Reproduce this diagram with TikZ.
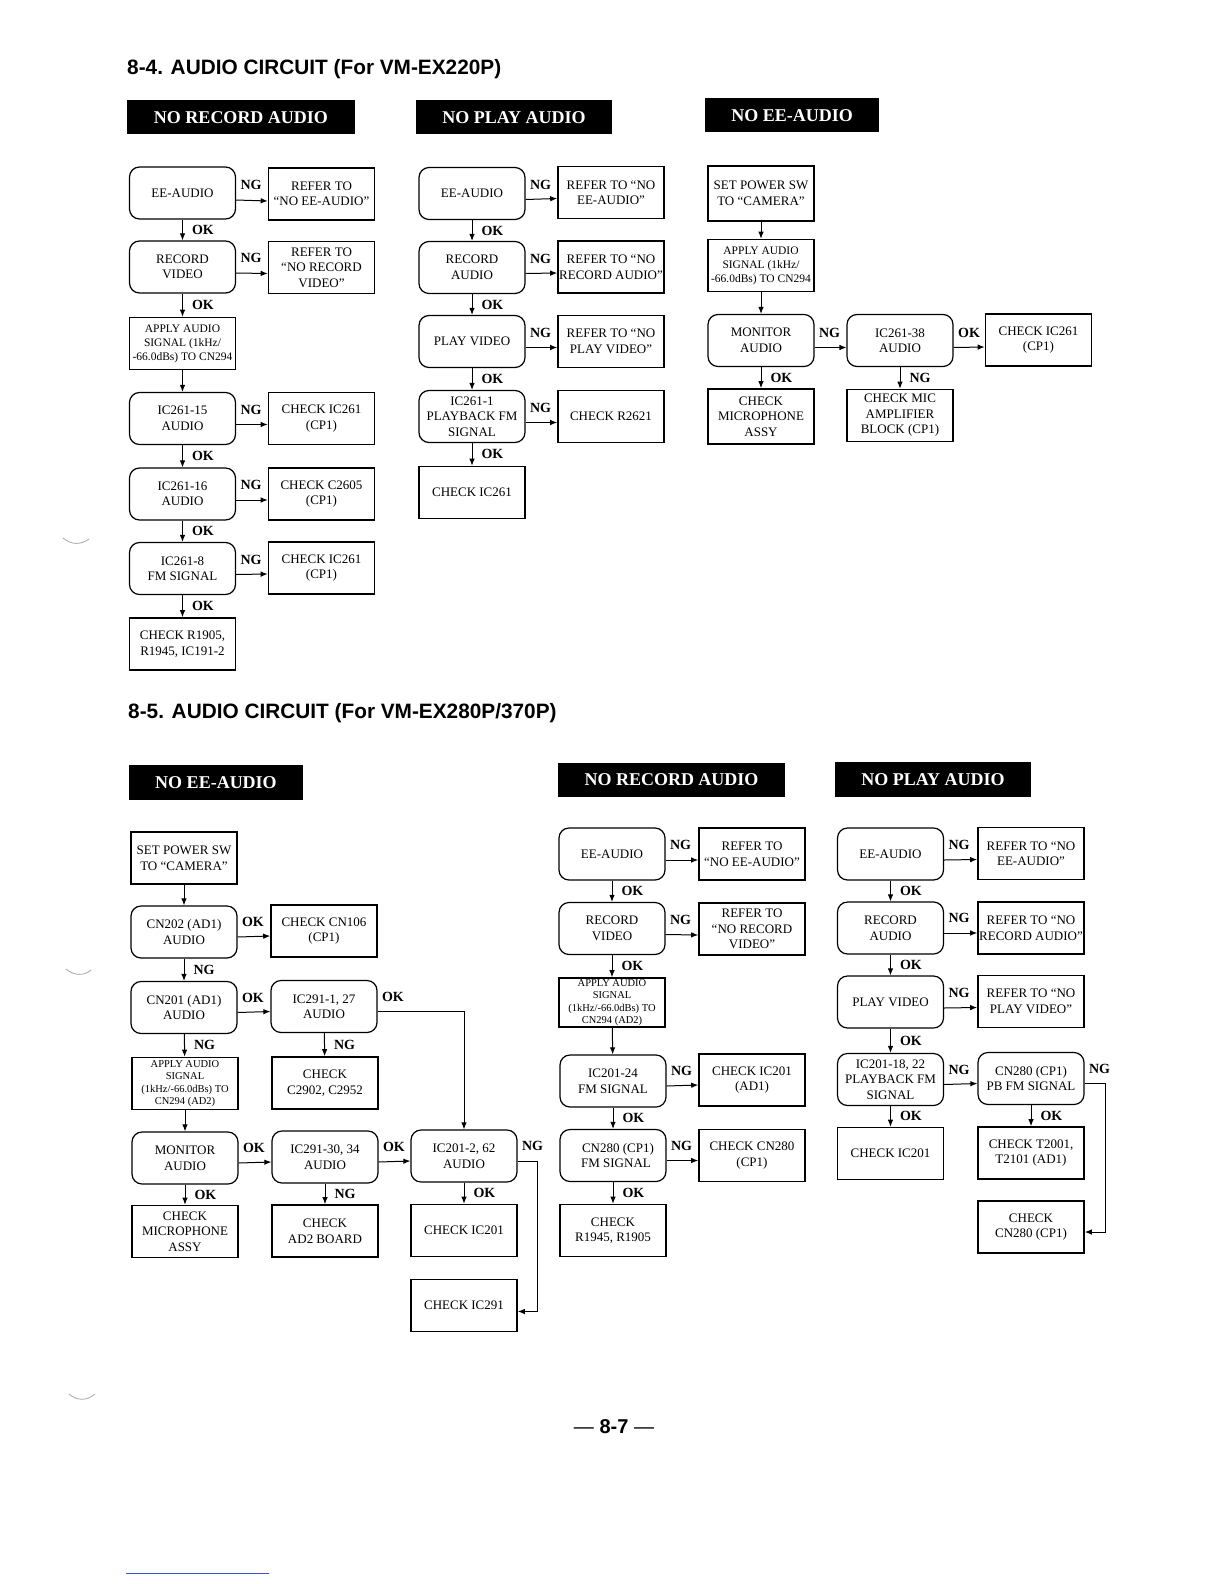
\documentclass[tikz,border=0pt]{standalone}
\usepackage{fontspec}
\setmainfont{Liberation Serif}
\newfontfamily\titlefont{Liberation Sans}
\usetikzlibrary{arrows.meta}

\definecolor{linkblue}{RGB}{60,80,200}

\tikzset{
  box/.style={draw, line width=1.6pt, minimum width=106pt, minimum height=52pt,
    inner sep=1pt, align=center, font=\fontsize{13}{15.5}\selectfont},
  rbox/.style={box, rounded corners=10pt, line width=1.2pt},
  sig3/.style={font=\fontsize{11.5}{14}\selectfont},
  sig4/.style={font=\fontsize{10.5}{12.3}\selectfont},
  hdr/.style={fill=black, text=white, inner sep=0pt, minimum height=34pt,
    font=\bfseries\fontsize{18}{20}\selectfont},
  ttl/.style={anchor=west, inner sep=0pt, font=\titlefont\bfseries\fontsize{20.8}{22}\selectfont},
  lbl/.style={inner sep=1pt, font=\bfseries\fontsize{14}{14}\selectfont},
  tag/.style={lbl, pos=0, anchor=south west, xshift=3pt, yshift=8.5pt},
  vtag/.style={lbl, midway, anchor=west, xshift=8pt},
  flow/.style={line width=1pt, -{Latex[length=7pt,width=5.5pt]}},
}

\begin{document}
\begin{tikzpicture}[x=1pt,y=-1pt]
  \useasboundingbox (0,0) rectangle (1224,1584);

  % titles
  \node[ttl] (ttlA) at (127,69) {8-4. AUDIO CIRCUIT (For VM-EX220P)};
  \node[ttl] (ttlB) at (128,713) {8-5. AUDIO CIRCUIT (For VM-EX280P/370P)};

  % 8-4 no record audio
  \node[hdr, minimum width=228pt] (hA) at (241,117.5) {NO RECORD AUDIO};
  \node[rbox] (a1) at (182.5,193) {EE-AUDIO};
  \node[box] (a1n) at (321.5,194) {REFER TO\\“NO EE-AUDIO”};
  \node[rbox] (a2) at (182.5,267) {RECORD\\VIDEO};
  \node[box] (a2n) at (321.5,267.5) {REFER TO\\“NO RECORD\\VIDEO”};
  \node[box, sig3] (a3) at (182.5,343.5) {APPLY AUDIO\\SIGNAL (1kHz/\\-66.0dBs) TO CN294};
  \node[rbox] (a4) at (182.5,418.5) {IC261-15\\AUDIO};
  \node[box] (a4n) at (321.5,418.5) {CHECK IC261\\(CP1)};
  \node[rbox] (a5) at (182.5,494) {IC261-16\\AUDIO};
  \node[box] (a5n) at (321.5,494) {CHECK C2605\\(CP1)};
  \node[rbox] (a6) at (182.5,568.5) {IC261-8\\FM SIGNAL};
  \node[box] (a6n) at (321.5,568) {CHECK IC261\\(CP1)};
  \node[box] (a7) at (182.5,644) {CHECK R1905,\\R1945, IC191-2};

  \draw[flow] ([yshift=-7pt]a1.east) -- ([yshift=-7pt]a1n.west) node[tag] {NG};
  \draw[flow] ([yshift=-6pt]a2.east) -- ([yshift=-6pt]a2n.west) node[tag] {NG};
  \draw[flow] ([yshift=-6pt]a4.east) -- ([yshift=-6pt]a4n.west) node[tag] {NG};
  \draw[flow] ([yshift=-6pt]a5.east) -- ([yshift=-6pt]a5n.west) node[tag] {NG};
  \draw[flow] ([yshift=-6pt]a6.east) -- ([yshift=-6pt]a6n.west) node[tag] {NG};
  \draw[flow] (a1) -- (a2) node[vtag] {OK};
  \draw[flow] (a2) -- (a3) node[vtag] {OK};
  \draw[flow] (a3) -- (a4);
  \draw[flow] (a4) -- (a5) node[vtag] {OK};
  \draw[flow] (a5) -- (a6) node[vtag] {OK};
  \draw[flow] (a6) -- (a7) node[vtag] {OK};

  % 8-4 no play audio
  \node[hdr, minimum width=196pt] (hB) at (514,117.5) {NO PLAY AUDIO};
  \node[rbox] (b1) at (472,193.5) {EE-AUDIO};
  \node[box] (b1n) at (611,192.5) {REFER TO “NO\\EE-AUDIO”};
  \node[rbox] (b2) at (472,267.5) {RECORD\\AUDIO};
  \node[box] (b2n) at (611,267) {REFER TO “NO\\RECORD AUDIO”};
  \node[rbox] (b3) at (472,341.5) {PLAY VIDEO};
  \node[box] (b3n) at (611,341.5) {REFER TO “NO\\PLAY VIDEO”};
  \node[rbox] (b4) at (472,416.5) {IC261-1\\PLAYBACK FM\\SIGNAL};
  \node[box] (b4n) at (611,416.5) {CHECK R2621};
  \node[box] (b5) at (472,492.5) {CHECK IC261};

  \draw[flow] ([yshift=-6pt]b1.east) -- ([yshift=-6pt]b1n.west) node[tag] {NG};
  \draw[flow] ([yshift=-6pt]b2.east) -- ([yshift=-6pt]b2n.west) node[tag] {NG};
  \draw[flow] ([yshift=-6pt]b3.east) -- ([yshift=-6pt]b3n.west) node[tag] {NG};
  \draw[flow] ([yshift=-6pt]b4.east) -- ([yshift=-6pt]b4n.west) node[tag] {NG};
  \draw[flow] (b1) -- (b2) node[vtag] {OK};
  \draw[flow] (b2) -- (b3) node[vtag] {OK};
  \draw[flow] (b3) -- (b4) node[vtag] {OK};
  \draw[flow] (b4) -- (b5) node[vtag] {OK};

  % 8-4 no ee-audio
  \node[hdr, minimum width=174pt] (hC) at (792,115.5) {NO EE-AUDIO};
  \node[box, minimum height=55pt] (c1) at (761,193.5) {SET POWER SW\\TO “CAMERA”};
  \node[box, sig3] (c2) at (761,265.5) {APPLY AUDIO\\SIGNAL (1kHz/\\-66.0dBs) TO CN294};
  \node[rbox] (c3) at (761,340.5) {MONITOR\\AUDIO};
  \node[rbox] (c4) at (900,340.5) {IC261-38\\AUDIO};
  \node[box] (c5) at (1038.5,340) {CHECK IC261\\(CP1)};
  \node[box, minimum height=55pt] (c6) at (761,416.5) {CHECK\\MICROPHONE\\ASSY};
  \node[box] (c7) at (900,415.5) {CHECK MIC\\AMPLIFIER\\BLOCK (CP1)};

  \draw[flow] (c1) -- (c2);
  \draw[flow] (c2) -- (c3);
  \draw[flow] ([yshift=-7pt]c3.east) -- ([yshift=-7pt]c4.west) node[tag] {NG};
  \draw[flow] ([yshift=-7pt]c4.east) -- ([yshift=-7pt]c5.west) node[tag] {OK};
  \draw[flow] (c3) -- (c6) node[vtag] {OK};
  \draw[flow] (c4) -- (c7) node[vtag] {NG};

  % 8-5 no ee-audio
  \node[hdr, minimum width=174pt, minimum height=35pt] (hD) at (216,782.5) {NO EE-AUDIO};
  \node[box] (d1) at (184,858) {SET POWER SW\\TO “CAMERA”};
  \node[rbox] (d2) at (184,932) {CN202 (AD1)\\AUDIO};
  \node[box] (d2n) at (324,931) {CHECK CN106\\(CP1)};
  \node[rbox] (d3) at (184,1007.5) {CN201 (AD1)\\AUDIO};
  \node[rbox] (d3n) at (324,1006.5) {IC291-1, 27\\AUDIO};
  \node[box, sig4] (d4) at (185,1083.5) {APPLY AUDIO\\SIGNAL\\(1kHz/-66.0dBs) TO\\CN294 (AD2)};
  \node[box] (d4n) at (325,1083) {CHECK\\C2902, C2952};
  \node[rbox] (d5) at (185,1158) {MONITOR\\AUDIO};
  \node[rbox] (d5n) at (325,1157) {IC291-30, 34\\AUDIO};
  \node[rbox] (d5m) at (464,1156) {IC201-2, 62\\AUDIO};
  \node[box] (d6) at (185,1231.5) {CHECK\\MICROPHONE\\ASSY};
  \node[box] (d6n) at (325,1231) {CHECK\\AD2 BOARD};
  \node[box] (d6m) at (464,1230.5) {CHECK IC201};
  \node[box] (d7m) at (464,1305.5) {CHECK IC291};

  \draw[flow] (d1) -- (d2);
  \draw[flow] ([yshift=-5pt]d2.east) -- ([yshift=-5pt]d2n.west) node[tag] {OK};
  \draw[flow] (d2) -- (d3) node[vtag] {NG};
  \draw[flow] ([yshift=-5pt]d3.east) -- ([yshift=-5pt]d3n.west) node[tag] {OK};
  \draw[flow] ([yshift=-5pt]d3n.east) -| (d5m.north) node[tag] {OK};
  \draw[flow] (d3) -- (d4) node[vtag] {NG};
  \draw[flow] (d3n) -- (d4n) node[vtag] {NG};
  \draw[flow] (d4) -- (d5);
  \draw[flow] ([yshift=-5pt]d5.east) -- ([yshift=-5pt]d5n.west) node[tag] {OK};
  \draw[flow] ([yshift=-5pt]d5n.east) -- ([yshift=-5pt]d5m.west) node[tag] {OK};
  \draw[flow] ([yshift=-5pt]d5m.east) -- ++(20,0) node[tag] {NG} |- ([yshift=-6pt]d7m.east);
  \draw[flow] (d5) -- (d6) node[vtag] {OK};
  \draw[flow] (d5n) -- (d6n) node[vtag] {NG};
  \draw[flow] (d5m) -- (d6m) node[vtag] {OK};

  % 8-5 no record audio
  \node[hdr, minimum width=227pt] (hE) at (671.5,780) {NO RECORD AUDIO};
  \node[rbox] (e1) at (612,854) {EE-AUDIO};
  \node[box] (e1n) at (752,854) {REFER TO\\“NO EE-AUDIO”};
  \node[rbox] (e2) at (612,928.5) {RECORD\\VIDEO};
  \node[box] (e2n) at (752,929) {REFER TO\\“NO RECORD\\VIDEO”};
  \node[box, sig4, minimum height=49pt] (e3) at (612,1002.5) {APPLY AUDIO\\SIGNAL\\(1kHz/-66.0dBs) TO\\CN294 (AD2)};
  \node[rbox] (e4) at (613,1081) {IC201-24\\FM SIGNAL};
  \node[box] (e4n) at (752,1080) {CHECK IC201\\(AD1)};
  \node[rbox] (e5) at (613,1155.5) {\hspace*{10pt}CN280 (CP1)\\\hspace*{6pt}FM SIGNAL};
  \node[box] (e5n) at (752,1155.5) {CHECK CN280\\(CP1)};
  \node[box] (e6) at (613,1230.5) {CHECK\\R1945, R1905};

  \draw[flow] ([yshift=-6pt]e1.east) -- ([yshift=-6pt]e1n.west) node[tag] {NG};
  \draw[flow] ([yshift=-6pt]e2.east) -- ([yshift=-6pt]e2n.west) node[tag] {NG};
  \draw[flow] ([yshift=-5pt]e4.east) -- ([yshift=-5pt]e4n.west) node[tag] {NG};
  \draw[flow] ([yshift=-5pt]e5.east) -- ([yshift=-5pt]e5n.west) node[tag] {NG};
  \draw[flow] (e1) -- (e2) node[vtag] {OK};
  \draw[flow] (e2) -- (e3) node[vtag] {OK};
  \draw[flow] (e3) -- (e4);
  \draw[flow] (e4) -- (e5) node[vtag] {OK};
  \draw[flow] (e5) -- (e6) node[vtag] {OK};

  % 8-5 no play audio
  \node[hdr, minimum width=196pt, minimum height=35pt] (hF) at (933,779.5) {NO PLAY AUDIO};
  \node[rbox] (f1) at (890.5,854) {EE-AUDIO};
  \node[box] (f1n) at (1031,853.5) {REFER TO “NO\\EE-AUDIO”};
  \node[rbox] (f2) at (890.5,928) {RECORD\\AUDIO};
  \node[box] (f2n) at (1031,928) {REFER TO “NO\\RECORD AUDIO”};
  \node[rbox] (f3) at (890.5,1002) {PLAY VIDEO};
  \node[box] (f3n) at (1031,1001.5) {REFER TO “NO\\PLAY VIDEO”};
  \node[rbox] (f4) at (890.5,1079.5) {IC201-18, 22\\PLAYBACK FM\\SIGNAL};
  \node[rbox] (f4n) at (1031,1078.5) {CN280 (CP1)\\PB FM SIGNAL};
  \node[box] (f5) at (890.5,1153.5) {CHECK IC201};
  \node[box] (f5n) at (1031,1153) {CHECK T2001,\\T2101 (AD1)};
  \node[box] (f6n) at (1031,1227) {CHECK\\CN280 (CP1)};

  \draw[flow] ([yshift=-6pt]f1.east) -- ([yshift=-6pt]f1n.west) node[tag] {NG};
  \draw[flow] ([yshift=-5pt]f2.east) -- ([yshift=-5pt]f2n.west) node[tag] {NG};
  \draw[flow] ([yshift=-6pt]f3.east) -- ([yshift=-6pt]f3n.west) node[tag] {NG};
  \draw[flow] ([yshift=-5pt]f4.east) -- ([yshift=-5pt]f4n.west) node[tag] {NG};
  \draw[flow] ([yshift=-5pt]f4n.east) -- ++(21,0) node[tag] {NG} |- ([yshift=-5pt]f6n.east);
  \draw[flow] (f1) -- (f2) node[vtag] {OK};
  \draw[flow] (f2) -- (f3) node[vtag] {OK};
  \draw[flow] (f3) -- (f4) node[vtag] {OK};
  \draw[flow] (f4) -- (f5) node[vtag] {OK};
  \draw[flow] (f4n) -- (f5n) node[vtag] {OK};

  % page number and margin marks
  \node[font=\titlefont\fontsize{20}{22}\selectfont] (pg) at (614,1427) {— \textbf{8-7} —};
  \draw[gray!70, line width=0.8pt] (63,538) .. controls (71,545) and (81,545) .. (89,539);
  \draw[gray!70, line width=0.8pt] (66,969) .. controls (74,976) and (84,976) .. (91,970);
  \draw[gray!70, line width=0.8pt] (69,1394) .. controls (77,1401) and (87,1401) .. (95,1394);
  \draw[linkblue, line width=0.8pt] (126,1573) -- (269,1573);
\end{tikzpicture}
\end{document}
